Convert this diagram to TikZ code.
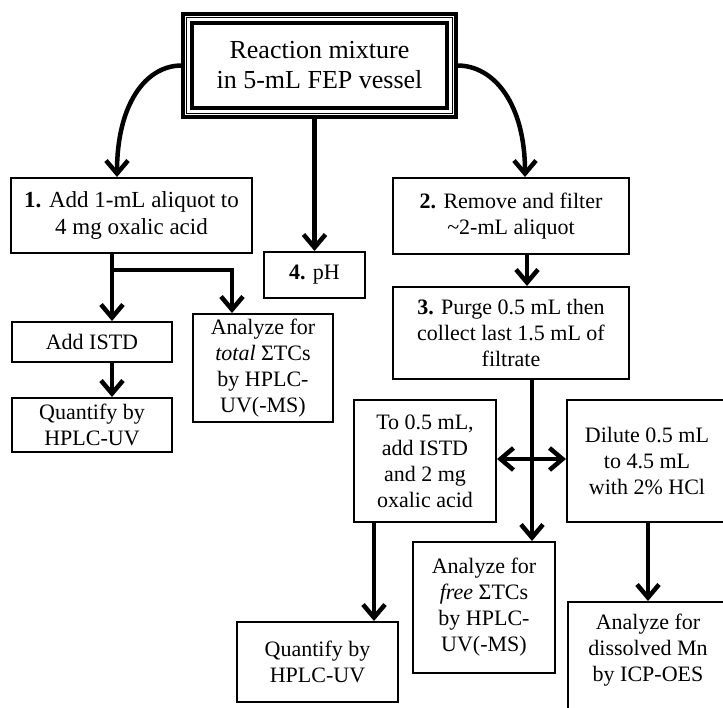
\documentclass[tikz,border=0pt]{standalone}
\usepackage{fontspec}
\setmainfont{Liberation Serif}
\usetikzlibrary{arrows.meta}
\begin{document}
\begin{tikzpicture}[x=1pt,y=-1pt,
  box/.style={draw,line width=2pt,align=center,inner sep=0pt,font=\fontsize{22}{26}\selectfont},
  txt/.style={align=center,inner sep=0pt,font=\fontsize{22}{26}\selectfont},
  arr/.style={line width=4.5pt,-{Straight Barb[length=13pt,width=22pt]}},
  dbl/.style={line width=4.5pt,{Straight Barb[length=13pt,width=22pt]}-{Straight Barb[length=13pt,width=22pt]}},
  ln/.style={line width=4.5pt}]
\useasboundingbox (0,0) rectangle (723,707);
\clip (0,0) rectangle (723,707);
% top box with triple frame
\node[draw,line width=4pt,minimum width=273pt,minimum height=103pt,align=center,inner sep=0pt,
      font=\fontsize{26}{30}\selectfont] (top) at (319.5,65.5) {Reaction mixture\\in 5-mL FEP vessel};
\draw[line width=1.2pt] ([shift={(5.5,5.5)}]top.north west) rectangle ([shift={(-5.5,-5.5)}]top.south east);
\draw[line width=3.5pt] ([shift={(11,11)}]top.north west) rectangle ([shift={(-11,-11)}]top.south east);
% boxes
\node[box,minimum width=241pt,minimum height=75pt,font=\fontsize{23}{27}\selectfont] (b1) at (131.5,215.5) {\textbf{1.} Add 1-mL aliquot to\\4 mg oxalic acid};
\node[box,minimum width=101pt,minimum height=46pt] (ph) at (314.5,275) {\textbf{4.} pH};
\node[box,minimum width=160pt,minimum height=40pt] (istd) at (92,342) {Add ISTD};
\node[box,minimum width=160pt,minimum height=54pt] (q1) at (92,425) {Quantify by\\HPLC-UV};
\node[box,minimum width=140pt,minimum height=108pt] (tot) at (263,368) {Analyze for\\\textit{total} ΣTCs\\by HPLC-\\UV(-MS)};
\node[box,minimum width=236pt,minimum height=76pt] (b2) at (511,216) {\textbf{2.} Remove and filter\\\textasciitilde 2-mL aliquot};
\node[box,minimum width=236pt,minimum height=92pt] (b3) at (511,333) {\textbf{3.} Purge 0.5 mL then\\collect last 1.5 mL of\\filtrate};
\node[box,minimum width=142pt,minimum height=122pt] (to05) at (425,461) {To 0.5 mL,\\add ISTD\\and 2 mg\\oxalic acid};
\node[box,minimum width=160pt,minimum height=122pt] (dil) at (647,461) {Dilute 0.5 mL\\to 4.5 mL\\with 2\% HCl};
\node[box,minimum width=142pt,minimum height=131pt] (free) at (484,607.5) {Analyze for\\\textit{free} ΣTCs\\by HPLC-\\UV(-MS)};
\node[box,minimum width=161pt,minimum height=114pt] (mn) at (648.5,659) {};
\node[txt] (mnt) at (648,650) {Analyze for\\dissolved Mn\\by ICP-OES};
\node[box,minimum width=161pt,minimum height=80pt] (q2) at (317.5,662) {Quantify by\\HPLC-UV};
% helper coordinates
\coordinate (c1) at (117,0);
\coordinate (c2) at (525,0);
\coordinate (c3) at (112,0);
\coordinate (c4) at (232,0);
\coordinate (c5) at (527,0);
\coordinate (c6) at (532,0);
\coordinate (c7) at (0,459);
\coordinate (c8) at (648,0);
\coordinate (c9) at (374,0);
\coordinate (j) at (112,270);
% connectors
\draw[arr] (top.west) .. controls (145,66) and (117,105) .. (b1.north -| c1);
\draw[arr] (top.east) .. controls (495,66) and (525,105) .. (b2.north -| c2);
\draw[arr] (ph.north |- top.south) -- (ph.north);
\draw[ln] (b1.south -| c3) -- (j);
\draw[arr] (j) -- (istd.north -| c3);
\draw[arr] (j) -| (tot.north -| c4);
\draw[arr] (istd.south -| c3) -- (q1.north -| c3);
\draw[arr] (b2.south -| c5) -- (b3.north -| c5);
\draw[arr] (b3.south -| c6) -- (free.north -| c6);
\draw[dbl] (to05.east |- c7) -- (dil.west |- c7);
\draw[arr] (dil.south -| c8) -- (mn.north -| c8);
\draw[arr] (to05.south -| c9) -- (q2.north -| c9);
\end{tikzpicture}
\end{document}
